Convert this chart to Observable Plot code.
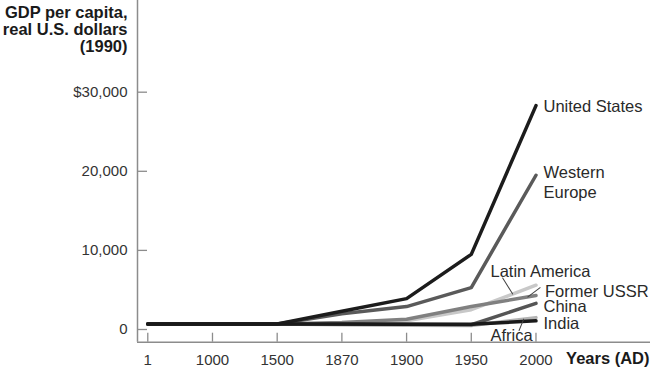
<!DOCTYPE html>
<html><head><meta charset="utf-8">
<script src="https://cdn.jsdelivr.net/npm/d3@7"></script>
<script src="https://cdn.jsdelivr.net/npm/@observablehq/plot@0.6"></script>
<style>body{margin:0;background:#fff;}</style>
</head><body><div id="chart"></div>
<script>
// ---- data ----
const years = ["1", "1000", "1500", "1870", "1900", "1950", "2000"];
const unitedStates  = [700, 700, 700, 2300, 3900, 9500, 28300];
const westernEurope = [700, 700, 700, 2000, 2900, 5300, 19500];
const latinAmerica  = [700, 700, 700, 700, 1100, 2500, 5600];
const formerUSSR    = [700, 700, 700, 900, 1300, 2900, 4300];
const china         = [700, 700, 700, 650, 650, 600, 3300];
const india         = [700, 700, 700, 700, 650, 650, 1100];
const africa        = [700, 700, 700, 600, 550, 500, 1500];
const yTicks = [0, 10000, 20000, 30000];
const yTickLabels = ["0", "10,000", "20,000", "$30,000"];
const seriesNames = ["Africa", "Latin America", "Former USSR", "China", "Western Europe", "United States", "India"];
const seriesValues = {
  "Africa": africa, "Latin America": latinAmerica, "Former USSR": formerUSSR, "China": china,
  "Western Europe": westernEurope, "United States": unitedStates, "India": india
};

// ---- styles ----
const colors = {
  "Africa": "#b4b4b4", "Latin America": "#c8c8c8", "Former USSR": "#808080", "China": "#555555",
  "Western Europe": "#5a5a5a", "United States": "#1c1c1c", "India": "#1a1a1a"
};
const labelStyle = {
  "United States": {text: "United States", dx: 7.5, dy: -0.5, lineAnchor: "middle"},
  "Western Europe": {text: "Western\nEurope", dx: 7.5, dy: -11.5, lineAnchor: "top"},
  "Latin America": {text: "Latin America", dx: -45.5, dy: -15, lineAnchor: "middle"},
  "Former USSR": {text: "Former USSR", dx: 9, dy: -5.3, lineAnchor: "middle"},
  "China": {text: "China", dx: 7.5, dy: 1.8, lineAnchor: "middle"},
  "India": {text: "India", dx: 7.5, dy: 1.4, lineAnchor: "middle"},
  "Africa": {text: "Africa", dx: -45.5, dy: 16.9, lineAnchor: "middle"}
};
const leaders = [
  {series: "Latin America", t: 0.64, length: 18.9, rotate: -32},
  {series: "Former USSR", t: 0.875, length: 15.3, rotate: 53},
  {series: "Africa", t: 0.81, length: 12.3, rotate: -158}
];

const rows = seriesNames.flatMap(name => seriesValues[name].map((v, i) => ({series: name, i, value: v})));
const last = years.length - 1;
const xMin = -0.159, xMax = 7.77;
const yMin = -1606, yMax = 41592;
const pxPerX = 513 / (xMax - xMin);
const unitsPerPxY = (yMax - yMin) / 341.7;
const font = "'Liberation Sans', Arial, Helvetica, sans-serif";
const lineShape = {draw(context, l) { context.moveTo(0, 0); context.lineTo(0, -l); }};

const marks = [
  Plot.ruleX([xMin], {stroke: "#8c8c8c", strokeWidth: 1.5}),
  Plot.ruleY([yMin], {stroke: "#8c8c8c", strokeWidth: 1.5}),
  Plot.ruleX(d3.range(years.length), {x: d => d, y1: yMin, y2: yMin + 9 * unitsPerPxY, stroke: "#8c8c8c", strokeWidth: 1.3}),
  Plot.ruleY(yTicks, {y: d => d, x1: xMin, x2: xMin + 10 / pxPerX, stroke: "#8c8c8c", strokeWidth: 1.3}),
  Plot.axisY(yTicks, {tickSize: 0, tickPadding: 10, tickFormat: (d, k) => yTickLabels[yTicks.indexOf(d)], fill: "#333", fontSize: 15, label: null}),
  Plot.axisX(d3.range(years.length), {tickSize: 0, tickPadding: 12, tickFormat: d => years[d], fill: "#333", fontSize: 15, label: null}),
  ...seriesNames.map(name => Plot.line(rows.filter(r => r.series === name), {
    x: "i", y: "value", stroke: colors[name], strokeWidth: 3.5, strokeLinejoin: "round"
  })),
  ...leaders.map(L => {
    const v = seriesValues[L.series];
    const pt = {x: last - 1 + L.t, y: v[last - 1] + L.t * (v[last] - v[last - 1])};
    return Plot.vector([pt], {x: "x", y: "y", length: L.length, rotate: L.rotate, anchor: "start", shape: lineShape, stroke: "#444", strokeWidth: 1});
  }),
  ...seriesNames.map(name => {
    const s = labelStyle[name];
    return Plot.text([{x: last, y: seriesValues[name][last]}], {
      x: "x", y: "y", text: () => s.text, dx: s.dx, dy: s.dy, textAnchor: "start", lineAnchor: s.lineAnchor,
      lineHeight: 1.22, fontSize: 16.5, fill: "#2a2a2a"
    });
  }),
  Plot.text(["GDP per capita,\nreal U.S. dollars\n(1990)"], {
    frameAnchor: "top-left", text: d => d, textAnchor: "end", lineAnchor: "top", dx: -10, dy: 5,
    lineHeight: 1.04, fontSize: 16.5, fontWeight: "bold", fill: "#1a1a1a"
  }),
  Plot.text(["Years (AD)"], {
    frameAnchor: "bottom-right", text: d => d, textAnchor: "end", lineAnchor: "middle", dx: -1, dy: 17,
    fontSize: 16.5, fontWeight: "bold", fill: "#1a1a1a"
  })
];

const chart = Plot.plot({
  width: 650, height: 369,
  marginLeft: 137, marginRight: 0, marginTop: 0, marginBottom: 27.3,
  x: {type: "linear", domain: [xMin, xMax]},
  y: {type: "linear", domain: [yMin, yMax]},
  style: {fontFamily: font, fontSize: "15px", color: "#333", background: "#fff"},
  marks
});
document.getElementById("chart").appendChild(chart);
</script>
</body></html>
